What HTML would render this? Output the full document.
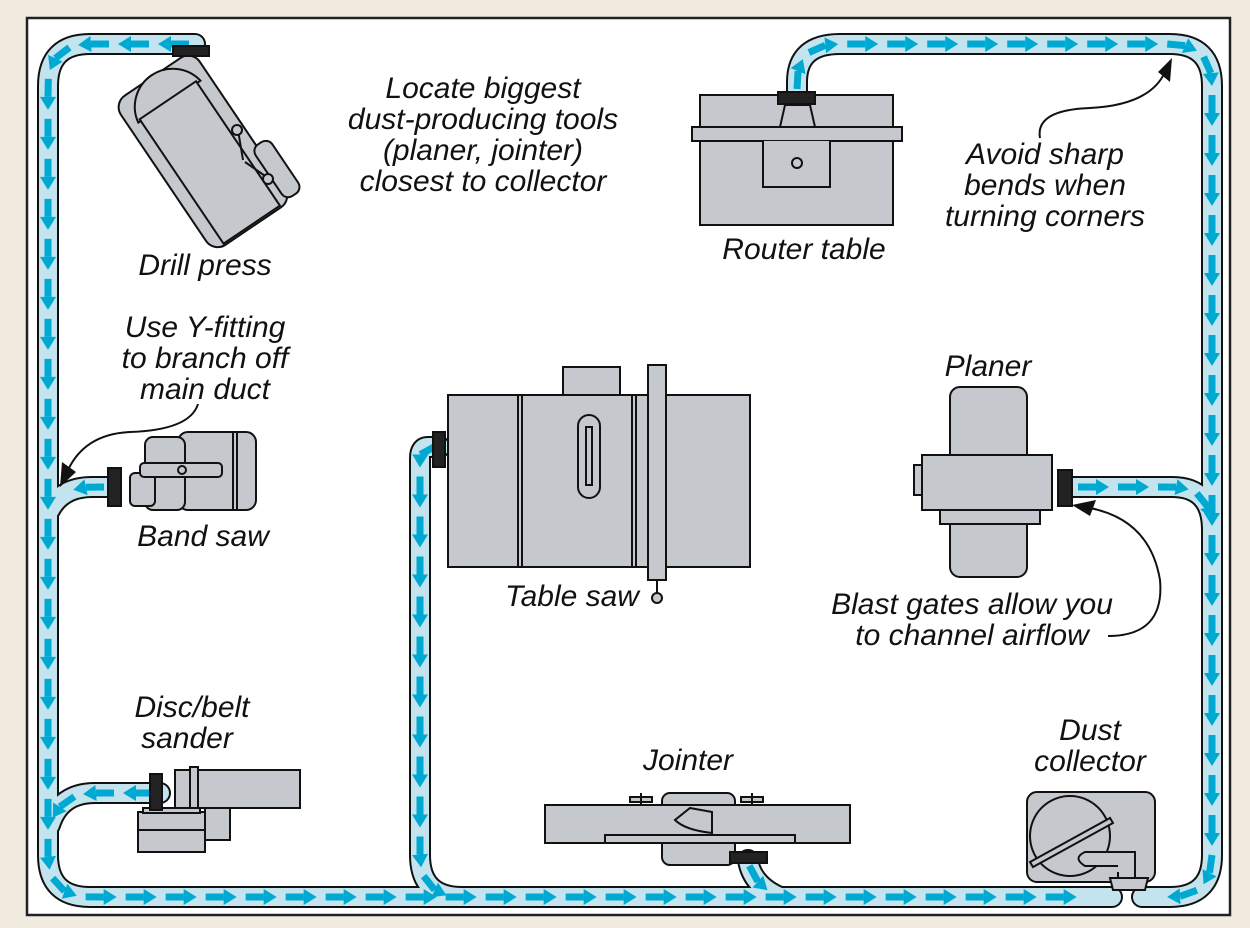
<!DOCTYPE html>
<html><head><meta charset="utf-8"><style>
html,body{margin:0;padding:0;background:#f1ebe0;}
svg{display:block}
text{font-family:"Liberation Sans",sans-serif;font-style:italic;font-size:30px;fill:#111;}
</style></head><body>
<svg id="s" width="1250" height="928" viewBox="0 0 1250 928" xmlns="http://www.w3.org/2000/svg">
<rect x="27" y="18" width="1203" height="897" fill="#fff" stroke="#222" stroke-width="2.5"/>
<g id="ducts" fill="none" stroke-linecap="round">
</g>
<g id="arrows" fill="#00a9d1" stroke="#00a9d1" stroke-width="7"></g>

<g stroke="#111" stroke-width="2" fill="#c5c8cc">
<!-- drill press -->
<g transform="rotate(-34 205 150)">
 <rect x="155" y="60" width="95" height="180" rx="14"/>
 <rect x="244" y="175" width="20" height="62" rx="8"/>
 <path d="M165 90 A38 38 0 0 1 240 90 Z"/>
 <rect x="168" y="88" width="68" height="150"/>
</g>
<line x1="238" y1="130" x2="243" y2="160"/><circle cx="237" cy="130" r="5"/>
<line x1="245" y1="162" x2="268" y2="178"/><circle cx="268" cy="179" r="5"/>
<rect x="173" y="46" width="36" height="10" fill="#222"/>
<!-- router -->
<rect x="700" y="95" width="193" height="130"/>
<rect x="692" y="127" width="210" height="14"/>
<path d="M763 141 V187 H830 V141" />
<circle cx="797" cy="163" r="5"/>
<path d="M785 105 L780 127 H815 L810 105 Z"/>
<rect x="778" y="92" width="37" height="12" fill="#222"/>
<!-- table saw -->
<rect x="563" y="367" width="57" height="28"/>
<rect x="448" y="395" width="302" height="172"/>
<line x1="518" y1="395" x2="518" y2="567"/><line x1="522" y1="395" x2="522" y2="567"/>
<line x1="632" y1="395" x2="632" y2="567"/><line x1="636" y1="395" x2="636" y2="567"/>
<rect x="578" y="415" width="22" height="83" rx="11"/>
<rect x="586" y="427" width="6" height="58"/>
<rect x="648" y="365" width="18" height="215"/>
<line x1="657" y1="580" x2="657" y2="593"/><circle cx="657" cy="598" r="5"/>
<rect x="433" y="432" width="12" height="35" fill="#222"/>
<!-- band saw -->
<rect x="178" y="432" width="78" height="78" rx="10"/>
<line x1="233" y1="432" x2="233" y2="510"/><line x1="237" y1="432" x2="237" y2="510"/>
<rect x="145" y="437" width="40" height="73" rx="8"/>
<rect x="130" y="473" width="25" height="33" rx="5"/>
<rect x="140" y="463" width="82" height="14" rx="4"/>
<circle cx="182" cy="470" r="4"/>
<rect x="108" y="468" width="13" height="38" fill="#222"/>
<!-- planer -->
<rect x="950" y="387" width="77" height="190" rx="10"/>
<rect x="940" y="510" width="100" height="14"/>
<rect x="922" y="455" width="130" height="55"/>
<rect x="914" y="465" width="8" height="30"/>
<rect x="1058" y="470" width="14" height="36" fill="#222"/>
<!-- jointer -->
<rect x="662" y="793" width="73" height="72" rx="8"/>
<rect x="545" y="805" width="305" height="38"/>
<path d="M690 808 L712 812 L712 833 Q685 830 675 820 Z"/>
<rect x="605" y="835" width="190" height="8"/>
<rect x="630" y="797" width="22" height="5"/><line x1="641" y1="793" x2="641" y2="805"/>
<rect x="741" y="797" width="22" height="5"/><line x1="752" y1="793" x2="752" y2="805"/>
<rect x="730" y="852" width="37" height="11" fill="#222"/>
<!-- sander -->
<rect x="205" y="805" width="25" height="35"/>
<rect x="175" y="770" width="125" height="38"/>
<rect x="190" y="767" width="8" height="44"/>
<rect x="138" y="812" width="67" height="40"/>
<line x1="138" y1="830" x2="205" y2="830"/>
<rect x="143" y="808" width="57" height="5"/>
<rect x="150" y="774" width="12" height="36" fill="#222"/>
<!-- dust collector -->
<rect x="1027" y="792" width="128" height="90" rx="10"/>
<circle cx="1070" cy="836" r="40"/>
<path d="M1030 862 L1110 818 L1113 823 L1033 867 Z"/>
<path d="M1118 872 L1118 878 L1135 878 L1135 852 L1085 852 Q1072 858 1085 866 L1118 866"/>
<path d="M1110 878 L1113 890 L1145 890 L1148 878 Z"/>
</g>

<g fill="none" stroke="#111" stroke-width="2">
 <path d="M198 404 Q190 430 130 432 Q85 434 68 470"/>
 <path d="M1040 138 Q1035 110 1090 108 Q1150 105 1165 72"/>
 <path d="M1108 636 Q1165 636 1160 580 Q1150 520 1090 508"/>
</g>
<g fill="#111">
 <path d="M60 487 L62 462 L76 472 Z"/>
 <path d="M1172 58 L1170 82 L1158 72 Z"/>
 <path d="M1072 505 L1096 500 L1090 516 Z"/>
</g>

<g text-anchor="middle">
<text x="483" y="98">Locate biggest</text>
<text x="483" y="129">dust-producing tools</text>
<text x="483" y="160">(planer, jointer)</text>
<text x="483" y="191">closest to collector</text>
<text x="205" y="275">Drill press</text>
<text x="205" y="337">Use Y-fitting</text>
<text x="205" y="368">to branch off</text>
<text x="205" y="399">main duct</text>
<text x="203" y="546">Band saw</text>
<text x="192" y="717">Disc/belt</text>
<text x="187" y="748">sander</text>
<text x="572" y="606">Table saw</text>
<text x="804" y="259">Router table</text>
<text x="1045" y="164">Avoid sharp</text>
<text x="1045" y="195">bends when</text>
<text x="1045" y="226">turning corners</text>
<text x="988" y="376">Planer</text>
<text x="972" y="614">Blast gates allow you</text>
<text x="972" y="645">to channel airflow</text>
<text x="688" y="770">Jointer</text>
<text x="1090" y="740">Dust</text>
<text x="1090" y="771">collector</text>
</g>
</svg>
<script>
var paths=[
"M195 44 L90 44 Q48 44 48 86 L48 855 Q48 897 90 897 L1112 897",
"M797 95 L797 82 Q797 44 840 44 L1170 44 Q1212 44 1212 86 L1212 855 Q1212 897 1170 897 L1142 897",
"M110 487 L92 487 Q62 487 50 510",
"M160 793 L95 793 Q60 793 50 825",
"M440 447 L428 447 Q420 447 420 458 L420 855 Q420 897 462 897",
"M748 860 Q752 885 780 897",
"M1072 487 L1172 487 Q1212 487 1212 530"];
var NS="http://www.w3.org/2000/svg",d=document.getElementById('ducts'),a=document.getElementById('arrows');
function mk(p,c,w){var e=document.createElementNS(NS,'path');e.setAttribute('d',p);e.setAttribute('stroke',c);e.setAttribute('stroke-width',w);e.setAttribute('fill','none');d.appendChild(e);return e;}
var els=paths.map(function(p){return mk(p,'#111',22)});
paths.forEach(function(p){mk(p,'#c3e4ee',18)});
els.forEach(function(e){
 var L=e.getTotalLength();
 for(var s=6;s+30<L;s+=40){
  var p0=e.getPointAtLength(s),p1=e.getPointAtLength(s+18),p2=e.getPointAtLength(s+31);
  var l=document.createElementNS(NS,'line');
  l.setAttribute('x1',p0.x);l.setAttribute('y1',p0.y);l.setAttribute('x2',p1.x);l.setAttribute('y2',p1.y);
  a.appendChild(l);
  var dx=p2.x-p1.x,dy=p2.y-p1.y,n=Math.hypot(dx,dy)||1;dx/=n;dy/=n;
  var t=document.createElementNS(NS,'path');
  t.setAttribute('d','M'+p2.x+' '+p2.y+' L'+(p1.x-dy*8)+' '+(p1.y+dx*8)+' L'+(p1.x+dy*8)+' '+(p1.y-dx*8)+'Z');
  t.setAttribute('stroke','none');a.appendChild(t);
 }
});
</script>
</body></html>
